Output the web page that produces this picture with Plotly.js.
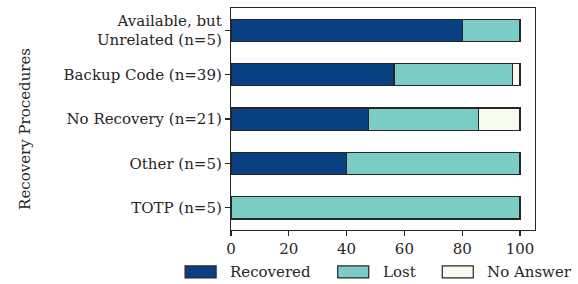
<!DOCTYPE html>
<html><head><meta charset="utf-8">
<script src="https://cdn.plot.ly/plotly-3.0.1.min.js"></script>
<style>body{margin:0;padding:0;background:#fff}#c{width:578px;height:284px}</style>
</head><body><div id="c"></div>
<script>
const categories = ["Available, but<br>Unrelated (n=5)", "Backup Code (n=39)", "No Recovery (n=21)", "Other (n=5)", "TOTP (n=5)"];
const seriesNames = ["Recovered", "Lost", "No Answer"];
const recovered = [80, 56.41, 47.62, 40, 0];
const lost = [20, 41.03, 38.10, 60, 100];
const noAnswer = [0, 2.56, 14.28, 0, 0];
const xTicks = [0, 20, 40, 60, 80, 100];
const colors = ["#084081", "#7bccc4", "#f7fcf0"];

const values = [recovered, lost, noAnswer];
const font = {family: "DejaVu Serif", size: 15, color: "#262626"};
const traces = values.map((v, i) => ({
  type: "bar", orientation: "h", name: seriesNames[i],
  y: categories, x: v, width: 0.5,
  marker: {color: colors[i], line: {color: "#262626", width: 1.2}},
  showlegend: false, hoverinfo: "x+y"
}));

// custom legend (wide patches as in reference)
const legX = [-0.151, 0.351, 0.695];
const legT = [-0.01, 0.4924, 0.8355];
const shapes = [], annotations = [];
seriesNames.forEach((n, i) => {
  shapes.push({type: "rect", xref: "paper", yref: "paper",
    x0: legX[i], x1: legX[i] + 0.102, y0: -0.162, y1: -0.216,
    fillcolor: colors[i], line: {color: "#262626", width: 1.2}});
  annotations.push({xref: "paper", yref: "paper", x: legT[i], y: -0.189,
    text: n, showarrow: false, xanchor: "left", yanchor: "middle", font: font});
});
annotations.push({xref: "paper", yref: "paper", x: -0.678, y: 0.455, text: "Recovery Procedures",
  textangle: -90, showarrow: false, xanchor: "center", yanchor: "middle", font: font});

const layout = {
  width: 578, height: 284, barmode: "stack",
  margin: {l: 231, r: 43, t: 8, b: 54},
  paper_bgcolor: "#fff", plot_bgcolor: "#fff",
  font: font,
  xaxis: {range: [0, 105.2], tickvals: xTicks, ticks: "outside", ticklen: 5, tickwidth: 1.2,
    tickcolor: "#262626", showgrid: false, zeroline: false, showline: true, mirror: true,
    linecolor: "#262626", linewidth: 1.2, tickfont: font},
  yaxis: {autorange: false, range: [4.5, -0.5], type: "category", ticks: "outside", ticklen: 5,
    tickwidth: 1.2, tickcolor: "#262626", showgrid: false, zeroline: false, showline: true,
    mirror: true, linecolor: "#262626", linewidth: 1.2, tickfont: font},
  shapes: shapes, annotations: annotations, showlegend: false
};
Plotly.newPlot("c", traces, layout, {displayModeBar: false, staticPlot: true});
</script></body></html>
